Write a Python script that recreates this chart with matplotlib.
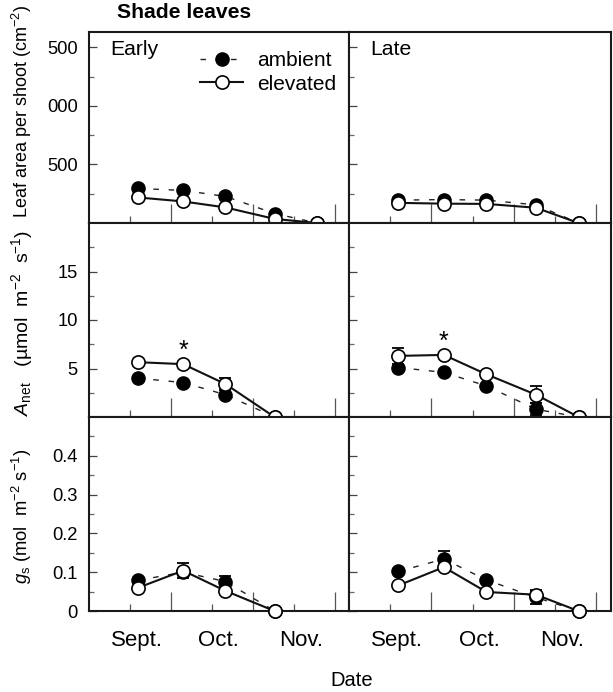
import numpy as np
import matplotlib
matplotlib.use("Agg")
import matplotlib.pyplot as plt

plt.rcParams['font.family'] = ['Liberation Sans', 'DejaVu Sans']
plt.rcParams['mathtext.fontset'] = 'custom'
plt.rcParams['mathtext.rm'] = 'Liberation Sans'
plt.rcParams['mathtext.it'] = 'Liberation Sans:italic'
plt.rcParams['mathtext.default'] = 'regular'

# sampling dates, days after 1 Sept
dates = [3, 19.5, 35, 53, 68.5]
months = ['Sept.', 'Oct.', 'Nov.']
month_pos = [0, 30, 60]

# leaf area per shoot
area_early_amb = [295, 278, 227, 81, 0]
area_early_elev = [218, 184, 133, 35, 0]
area_late_amb = [195, 200, 195, 155, 0]
area_late_elev = [172, 165, 163, 130, 0]

# net assimilation
anet_early_amb = [4.0, 3.55, 2.3, 0]
anet_early_elev = [5.65, 5.45, 3.4, 0]
anet_late_amb = [5.1, 4.6, 3.2, 0.8, 0]
anet_late_elev = [6.3, 6.4, 4.4, 2.3, 0]
anet_early_amb_err = [0, 0, 0, 0]
anet_early_elev_err = [0, 0, 0.6, 0]
anet_late_amb_err = [0, 0, 0, 0.6, 0]
anet_late_elev_err = [0.8, 0, 0, 0.85, 0]

# stomatal conductance
gs_early_amb = [0.079, 0.10, 0.076, 0]
gs_early_elev = [0.06, 0.104, 0.052, 0]
gs_late_amb = [0.102, 0.134, 0.08, 0.035, 0]
gs_late_elev = [0.066, 0.113, 0.049, 0.042, 0]
gs_early_amb_err = [0, 0, 0.015, 0]
gs_early_elev_err = [0, 0.019, 0, 0]
gs_late_amb_err = [0, 0.02, 0, 0.017, 0]
gs_late_elev_err = [0, 0, 0, 0.012, 0]

W, H = 613, 692
fig = plt.figure(figsize=(W / 100, H / 100), dpi=100)

def px_axes(x0, y0, x1, y1):
    return fig.add_axes([x0 / W, 1 - y1 / H, (x1 - x0) / W, (y1 - y0) / H])

rows = [(32, 223), (223, 417), (417, 611)]
cols = [(89, 349), (349, 611)]
axes = [[px_axes(c[0], r[0], c[1], r[1]) for c in cols] for r in rows]

def series(ax, y_amb, y_elev, e_amb=None, e_elev=None):
    n = len(y_amb)
    x = dates[:n]
    for y, e, z in [(y_amb, e_amb, 2), (y_elev, e_elev, 4)]:
        if e is None:
            continue
        idx = [i for i in range(n) if e[i] > 0]
        if idx:
            ax.errorbar([x[i] for i in idx], [y[i] for i in idx],
                        yerr=[e[i] for i in idx], fmt='none', ecolor='k',
                        elinewidth=1.0, capsize=4.5, capthick=1.3, zorder=z)
    ax.plot(x, y_amb, color='#222222', lw=1.0, dashes=(4, 7),
            marker='o', ms=9.5, mfc='black', mec='black', mew=1.0,
            label='ambient', zorder=3, clip_on=False)
    ax.plot(x, y_elev, color='#111111', lw=1.5, ls='-',
            marker='o', ms=9.5, mfc='white', mec='black', mew=1.2,
            label='elevated', zorder=5, clip_on=False)

series(axes[0][0], area_early_amb, area_early_elev)
series(axes[0][1], area_late_amb, area_late_elev)
series(axes[1][0], anet_early_amb, anet_early_elev, anet_early_amb_err, anet_early_elev_err)
series(axes[1][1], anet_late_amb, anet_late_elev, anet_late_amb_err, anet_late_elev_err)
series(axes[2][0], gs_early_amb, gs_early_elev, gs_early_amb_err, gs_early_elev_err)
series(axes[2][1], gs_late_amb, gs_late_elev, gs_late_amb_err, gs_late_elev_err)

ylims = [(0, 1630), (0, 20), (0, 0.5)]
ymaj = [[500, 1000, 1500], [5, 10, 15], [0, 0.1, 0.2, 0.3, 0.4]]
ylab = [['500', '000', '500'], ['5', '10', '15'], ['0', '0.1', '0.2', '0.3', '0.4']]
ymin = [[250, 750, 1250], [2.5, 7.5, 12.5, 17.5], [0.05, 0.15, 0.25, 0.35, 0.45]]

for r in range(3):
    for c in range(2):
        ax = axes[r][c]
        ax.set_xlim(-15, 80.3)
        ax.set_ylim(*ylims[r])
        for s in ax.spines.values():
            s.set_linewidth(1.5)
            s.set_color('#1a1a1a')
        ax.set_yticks(ymaj[r])
        ax.set_yticks(ymin[r], minor=True)
        if c == 0:
            ax.set_yticklabels(ylab[r])
        else:
            ax.set_yticklabels([])
        ax.tick_params(axis='y', which='major', direction='in', length=5.5,
                       width=0.9, color='#444444', labelsize=13.2, pad=8,
                       right=False)
        ax.tick_params(axis='y', which='minor', direction='in', length=3.5,
                       width=0.9, color='#666666', right=False)
        ax.set_xticks([15, 45, 75])
        ax.set_xticks(month_pos, minor=True)
        ax.set_xticklabels([])
        ax.set_xticklabels([], minor=True)
        ax.tick_params(axis='x', which='major', direction='in', length=14,
                       width=0.9, color='#555555', top=False)
        ax.tick_params(axis='x', which='minor', direction='in', length=5,
                       width=0.9, color='#555555', top=False)
        if r == 2:
            # month names sit a little right of the month-start ticks
            for m, name in zip(month_pos, months):
                ax.annotate(name, xy=(m + 2.6, 0), xycoords=('data', 'axes fraction'),
                            xytext=(0, -14), textcoords='offset points',
                            ha='center', va='top', fontsize=16)

# asterisks over significant differences
axes[1][0].annotate('*', (dates[1], anet_early_elev[1]), xytext=(0, 1),
                    textcoords='offset points', ha='center', va='bottom', fontsize=18)
axes[1][1].annotate('*', (dates[1], anet_late_elev[1]), xytext=(0, 1),
                    textcoords='offset points', ha='center', va='bottom', fontsize=18)

axes[0][0].text(0.08, 0.96, 'Early', transform=axes[0][0].transAxes,
                fontsize=15.2, ha='left', va='top')
axes[0][1].text(0.08, 0.96, 'Late', transform=axes[0][1].transAxes,
                fontsize=15.2, ha='left', va='top')

axes[0][0].legend(loc='upper left', bbox_to_anchor=(0.428, 0.898), frameon=False,
                  fontsize=15, handlelength=2.07, handletextpad=0.67,
                  labelspacing=0.2, borderpad=0, borderaxespad=0)

fig.text(117 / W, 1 - 13 / H, 'Shade leaves', fontsize=15.2, fontweight='bold',
         ha='left', va='center')
fig.text(352 / W, 1 - 680 / H, 'Date', fontsize=14.5, ha='center', va='center')
fig.text(22 / W, 1 - 111 / H, r'Leaf area per shoot (cm$^{-2}$)', rotation=90,
         fontsize=13, ha='center', va='center')
fig.text(22 / W, 1 - 323 / H, r'$\mathit{A}_{net}$   (µmol  m$^{-2}$  s$^{-1}$)',
         rotation=90, fontsize=14.0, ha='center', va='center')
fig.text(22 / W, 1 - 516 / H, r'$\mathit{g}_{s}$ (mol  m$^{-2}$ s$^{-1}$)',
         rotation=90, fontsize=13.2, ha='center', va='center')

fig.savefig('out.png', dpi=100)
